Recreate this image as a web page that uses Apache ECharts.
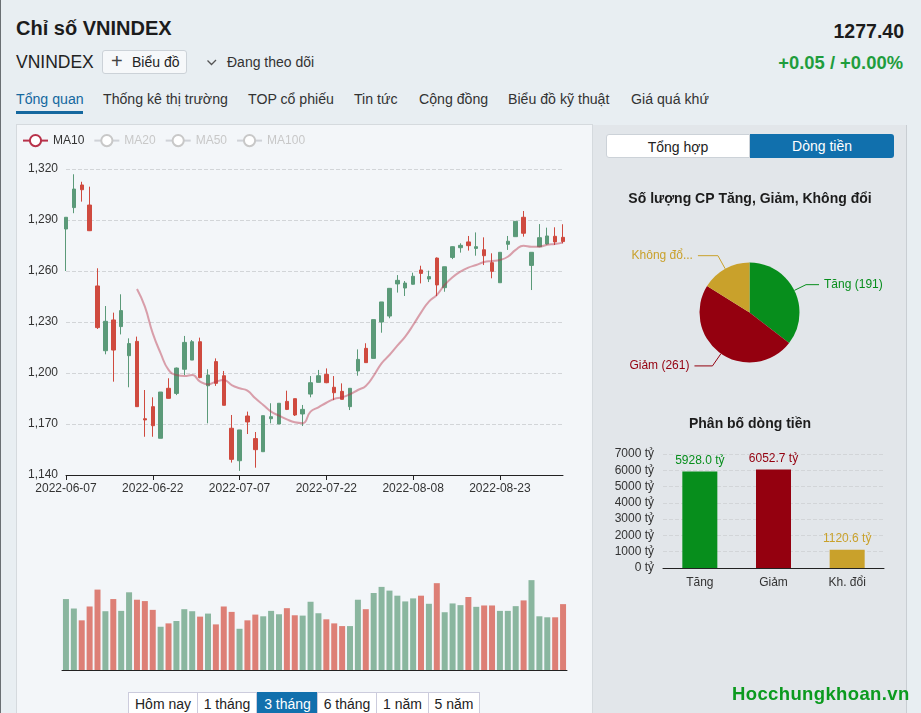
<!DOCTYPE html>
<html>
<head>
<meta charset="utf-8">
<title>VNINDEX</title>
<script src="https://cdn.jsdelivr.net/npm/echarts@6/dist/echarts.min.js"></script>
<style>
  html, body { margin: 0; padding: 0; width: 921px; height: 713px; overflow: hidden; background: #e8eef2; font-family: "Liberation Sans", Arial, sans-serif; color: #222; }
  .abs { position: absolute; white-space: nowrap; }
  #edge { position: absolute; left: 0; top: 0; width: 1px; height: 713px; background: #6a6f73; }
  #panelLeft { position: absolute; left: 16px; top: 124px; width: 577px; height: 600px; background: #f3f6f9; border: 1px solid #d5dade; box-sizing: border-box; }
  #panelRight { position: absolute; left: 593px; top: 125px; width: 313px; height: 600px; background: #e2e6ea; border-right: 1px solid #c9ced3; }
  #chart { position: absolute; left: 0; top: 0; width: 921px; height: 713px; }
  .tab { top: 91px; font-size: 14.15px; line-height: 16px; color: #333; }
  .seg { top: 134px; height: 24px; line-height: 24px; text-align: center; font-size: 14px; box-sizing: border-box; }
  .range { position: absolute; top: 692px; height: 26px; line-height: 22px; text-align: center; font-size: 14px; background: #fff; border: 1px solid #ccd; box-sizing: border-box; }
</style>
</head>
<body>
<div id="edge"></div>
<div id="panelLeft"></div>
<div id="panelRight"></div>

<div class="abs" style="left:16px;top:17px;font-size:20px;font-weight:bold;line-height:22px;color:#1c1c1c">Chỉ số VNINDEX</div>
<div class="abs" style="right:17px;top:20px;font-size:19.5px;font-weight:bold;line-height:22px;color:#1c1c1c">1277.40</div>
<div class="abs" style="left:16px;top:51px;font-size:17.5px;line-height:22px;color:#222">VNINDEX</div>
<div class="abs" style="left:102px;top:50px;width:85px;height:24px;background:#f6f8fa;border:1px solid #ccd2d8;border-radius:3px;box-sizing:border-box;font-size:14px;line-height:22px;padding-left:29px">Biểu đồ
  <span class="abs" style="left:8px;top:0;font-size:20px;line-height:21px;color:#444">+</span></div>
<svg class="abs" style="left:206px;top:58px" width="12" height="9"><path d="M1.5 2.5 L5.5 6.5 L10 2" fill="none" stroke="#555" stroke-width="1.3"/></svg>
<div class="abs" style="left:227px;top:54px;font-size:14px;line-height:16px;color:#333">Đang theo dõi</div>
<div class="abs" style="right:18px;top:52px;font-size:18.4px;font-weight:bold;line-height:22px;color:#1f9d3d">+0.05 / +0.00%</div>

<div class="abs tab" style="left:16px;color:#15689f">Tổng quan</div>
<div class="abs" style="left:16px;top:111px;width:67px;height:3px;background:#15689f"></div>
<div class="abs tab" style="left:103px">Thống kê thị trường</div>
<div class="abs tab" style="left:248px">TOP cổ phiếu</div>
<div class="abs tab" style="left:354px">Tin tức</div>
<div class="abs tab" style="left:419px">Cộng đồng</div>
<div class="abs tab" style="left:508px">Biểu đồ kỹ thuật</div>
<div class="abs tab" style="left:631px">Giá quá khứ</div>

<div class="abs seg" style="left:606px;width:144px;background:#fff;border:1px solid #ccd2d8;border-radius:3px 0 0 3px">Tổng hợp</div>
<div class="abs seg" style="left:750px;width:144px;background:#1170ad;color:#fff;border-radius:0 3px 3px 0">Dòng tiền</div>

<div class="range" style="left:128px;width:70px">Hôm nay</div>
<div class="range" style="left:197px;width:60px">1 tháng</div>
<div class="range" style="left:257px;width:61px;background:#1170ad;color:#fff;border-color:#1170ad">3 tháng</div>
<div class="range" style="left:317px;width:60px">6 tháng</div>
<div class="range" style="left:376px;width:53px">1 năm</div>
<div class="range" style="left:428px;width:52px">5 năm</div>

<div id="chart"></div>
<div class="abs" style="left:732px;top:683px;font-size:18.5px;font-weight:bold;line-height:22px;color:#0b9a1e;letter-spacing:0.37px">Hocchungkhoan.vn</div>

<script>
const dates = [
  '2022-06-07','2022-06-08','2022-06-09','2022-06-10','2022-06-13','2022-06-14','2022-06-15','2022-06-16',
  '2022-06-17','2022-06-20','2022-06-21','2022-06-22','2022-06-23','2022-06-24','2022-06-27','2022-06-28',
  '2022-06-29','2022-06-30','2022-07-01','2022-07-04','2022-07-05','2022-07-06','2022-07-07','2022-07-08',
  '2022-07-11','2022-07-12','2022-07-13','2022-07-14','2022-07-15','2022-07-18','2022-07-19','2022-07-20',
  '2022-07-21','2022-07-22','2022-07-25','2022-07-26','2022-07-27','2022-07-28','2022-07-29','2022-08-01',
  '2022-08-02','2022-08-03','2022-08-04','2022-08-05','2022-08-08','2022-08-09','2022-08-10','2022-08-11',
  '2022-08-12','2022-08-15','2022-08-16','2022-08-17','2022-08-18','2022-08-19','2022-08-22','2022-08-23',
  '2022-08-24','2022-08-25','2022-08-26','2022-08-29','2022-08-30','2022-08-31','2022-09-01','2022-09-02'
]

// open, close, low, high
const candles = [
  [1284.7,1291.6,1260,1291.6],[1297.3,1308.2,1294,1316.9],[1310.6,1307.8,1300.8,1312.5],[1298.8,1283.7,1283.5,1309.6],
  [1251.2,1226.7,1225.9,1261.6],[1213.1,1230.4,1211,1239.4],[1231.2,1213.5,1194.9,1235.5],[1227.3,1236.7,1222.7,1246.3],
  [1210.2,1217.3,1191.6,1220.4],[1218.6,1180.2,1180,1221.4],[1173.1,1172.4,1162.5,1190],[1180.2,1169,1162.5,1185.7],
  [1161.6,1188.8,1161.6,1188.8],[1191,1185.1,1185,1196.9],[1188,1202.9,1187,1203.2],[1202.2,1218,1198.8,1221.8],
  [1207.6,1218.4,1207.6,1219.4],[1218.4,1197.3,1196.9,1220.8],[1192.5,1198.8,1170.4,1202.2],[1206.7,1193.9,1192.4,1208.6],
  [1198.4,1181,1181,1201.2],[1167.5,1149.2,1147.3,1175.3],[1148.4,1166.5,1142.4,1166.5],[1174.7,1171.2,1164.1,1177.3],
  [1161.4,1154.9,1144.3,1165.3],[1153.7,1174.9,1153.7,1174.9],[1173.1,1174.3,1170.4,1182.2],[1170,1182.2,1170,1182.2],
  [1183.3,1178.6,1178.2,1189.6],[1184.9,1175.3,1174.7,1184.9],[1175.9,1178.6,1168.8,1181.2],[1187.6,1194.3,1185.7,1198.2],
  [1194.5,1198.4,1194.5,1201.8],[1199.2,1194.3,1194,1202.7],[1191.6,1188.4,1184.1,1198.2],[1189.2,1184.5,1184.5,1193.9],
  [1180.2,1191,1178.2,1191],[1201.2,1208,1198.4,1213.9],[1214.5,1206.1,1206,1217.5],[1208.6,1231.4,1208.6,1231.4],
  [1230,1241.8,1223.7,1241.8],[1233.5,1249.8,1232.2,1249.8],[1252.4,1254.5,1247.3,1257.6],[1250,1252.9,1245.3,1254.1],
  [1252.2,1256.9,1252,1259],[1260.6,1258.6,1252.7,1263.1],[1255.3,1256.7,1253.5,1260.2],[1267.6,1251.8,1245.3,1268],
  [1250.2,1262.5,1247.8,1262.5],[1268,1274.3,1267,1274.5],[1273.7,1275.1,1270.8,1276.3],[1277.1,1274.9,1272,1280.6],
  [1273.3,1274.3,1269,1282.7],[1272.5,1269,1263.5,1279.8],[1264.9,1259.8,1255.7,1270.4],[1253.1,1271,1253.1,1271],
  [1275.7,1277.5,1272.4,1280.6],[1280.2,1289.2,1280.2,1289.2],[1291.6,1282.2,1280.2,1295.3],[1263.3,1271,1248.8,1271],
  [1274.3,1279.6,1274,1287.6],[1275.9,1280.6,1275.5,1285.5],[1280.4,1277.1,1275.3,1285.7],[1279.8,1277.3,1276.3,1287.5]
]

const ma10 = [
  '-','-','-','-','-','-','-','-','-',1249.4,1239,1223.3,1211.6,1201.8,1198.8,1198.2,
  1198.8,1194.9,1193.3,1194.9,1195.9,1192.9,1191,1189.6,1185.1,1181.2,1177.3,1174.9,1172.7,1171,1170.5,1177.3,
  1179.8,1182.5,1184.7,1185.7,1187.5,1190,1192.4,1198.4,1205.7,1210.6,1216.1,1221.4,1228.2,1235.5,1242,1245.9,
  1251.8,1256.3,1259.6,1262,1263.5,1265.3,1265.9,1266.5,1268.4,1272.4,1274.9,1274.3,1274.3,1275.5,1275.9,1276.7
]

const volumes = [
  210,182,147,188,238,174,210,175,230,208,204,178,128,138,145,180,
  174,158,167,135,188,172,122,147,164,159,175,165,183,162,161,202,
  168,150,138,130,130,208,180,228,246,235,220,203,212,220,196,257,
  171,197,192,216,187,191,191,175,175,189,206,266,159,156,156,195
]

const breadthNames = ['Tăng', 'Giảm', 'Không đổi']
const breadthValues = [191, 261, 87]
const flowNames = ['Tăng', 'Giảm', 'Kh. đổi']
const flowValues = [5928.0, 6052.7, 1120.6]
const flowColors = ['#078e1c', '#94000f', '#c9a12b']
// label line lengths per slice
const pieLineLength = [13, 15, 15]
const pieLineLength2 = [13, 18, 20]

const upColor = '#5b9a79'
const downColor = '#cf4a3f'
const font = '"Liberation Sans", Arial, sans-serif'
const gridLine = { show: true, lineStyle: { type: 'dashed', color: '#d2d5d8', width: 1 } }

const chart = echarts.init(document.getElementById('chart'), null, { renderer: 'canvas' })

chart.setOption({
  animation: false,
  textStyle: { fontFamily: font },
  title: [
    { text: 'Số lượng CP Tăng, Giảm, Không đổi', left: 745, top: 187, textAlign: 'center',
      textStyle: { fontSize: 14, fontWeight: 'bold', color: '#1c1c1c', fontFamily: font } },
    { text: 'Phân bố dòng tiền', left: 745, top: 412, textAlign: 'center',
      textStyle: { fontSize: 14, fontWeight: 'bold', color: '#1c1c1c', fontFamily: font } }
  ],
  legend: {
    left: 17, top: 129, itemWidth: 25, itemHeight: 14, itemGap: 9,
    data: ['MA10', 'MA20', 'MA50', 'MA100'],
    selected: { MA10: true, MA20: false, MA50: false, MA100: false },
    inactiveColor: '#c8c8c8', inactiveBorderColor: '#c8c8c8',
    lineStyle: { opacity: 1 },
    textStyle: { fontSize: 12, color: '#333', fontFamily: font }
  },
  grid: [
    { left: 66, top: 169, width: 497, height: 306 },
    { left: 62, top: 570, width: 505, height: 100 },
    { left: 663, top: 454, width: 221, height: 114 }
  ],
  xAxis: [
    { type: 'category', gridIndex: 0, data: dates, boundaryGap: false,
      axisLine: { lineStyle: { color: '#222' } },
      axisTick: { interval: 10, length: 5, lineStyle: { color: '#222' } },
      axisLabel: { interval: 10, fontSize: 12, color: '#333', margin: 8, hideOverlap: false },
      splitLine: { show: false } },
    { type: 'category', gridIndex: 1, data: dates,
      axisLine: { lineStyle: { color: '#222' } }, axisTick: { show: false }, axisLabel: { show: false } },
    { type: 'category', gridIndex: 2, data: flowNames,
      axisLine: { lineStyle: { color: '#222' } },
      axisTick: { length: 4, lineStyle: { color: '#222' } },
      axisLabel: { fontSize: 12, color: '#333', margin: 9 } }
  ],
  yAxis: [
    { type: 'value', gridIndex: 0, min: 1140, max: 1320, interval: 30,
      axisLine: { show: false }, axisTick: { show: false },
      axisLabel: { fontSize: 12, color: '#333', margin: 8, formatter: v => v.toLocaleString('en-US') },
      splitLine: gridLine },
    { type: 'value', gridIndex: 1, min: 0, max: 296, show: false, splitLine: { show: false } },
    { type: 'value', gridIndex: 2, min: 0, max: 7000, interval: 1000,
      axisLine: { show: false }, axisTick: { show: false },
      axisLabel: { fontSize: 12, color: '#333', margin: 9, formatter: v => v + ' tỷ' },
      splitLine: gridLine }
  ],
  series: [
    { name: 'Giá', type: 'candlestick', xAxisIndex: 0, yAxisIndex: 0, data: candles,
      barWidth: 4, clip: false,
      itemStyle: { color: upColor, color0: downColor, borderColor: upColor, borderColor0: downColor, borderWidth: 1 } },
    { name: 'MA10', type: 'line', xAxisIndex: 0, yAxisIndex: 0, data: ma10, smooth: true, showSymbol: false,
      symbol: 'emptyCircle', itemStyle: { color: '#b8324a' },
      lineStyle: { color: '#b8324a', width: 2, opacity: 0.45 } },
    { name: 'MA20', type: 'line', xAxisIndex: 0, yAxisIndex: 0, data: [], showSymbol: false, symbol: 'emptyCircle' },
    { name: 'MA50', type: 'line', xAxisIndex: 0, yAxisIndex: 0, data: [], showSymbol: false, symbol: 'emptyCircle' },
    { name: 'MA100', type: 'line', xAxisIndex: 0, yAxisIndex: 0, data: [], showSymbol: false, symbol: 'emptyCircle' },
    { name: 'Khối lượng', type: 'bar', xAxisIndex: 1, yAxisIndex: 1, barWidth: 6,
      data: volumes.map((v, i) => ({
        value: v,
        itemStyle: { color: candles[i][1] >= candles[i][0] ? '#8ab69f' : '#dd7f76' }
      })) },
    { name: 'Số lượng CP', type: 'pie', center: [749.5, 312.5], radius: [0, 50], startAngle: 90, clockwise: true,
      label: { fontSize: 12, formatter: p => p.name === 'Không đổi' ? 'Không đổ...' : p.name + ' (' + p.value + ')' },
      itemStyle: { borderColor: 'transparent' },
      data: breadthValues.map((v, i) => ({
        name: breadthNames[i], value: v,
        itemStyle: { color: flowColors[i] },
        label: { color: flowColors[i] },
        labelLine: { length: pieLineLength[i], length2: pieLineLength2[i], lineStyle: { color: flowColors[i] } }
      })) },
    { name: 'Dòng tiền', type: 'bar', xAxisIndex: 2, yAxisIndex: 2, barWidth: 35,
      label: { show: true, position: 'top', distance: 5, fontSize: 12, formatter: p => p.value.toFixed(1) + ' tỷ' },
      data: flowValues.map((v, i) => ({
        value: v,
        itemStyle: { color: flowColors[i] },
        label: { color: flowColors[i] }
      })) }
  ]
})
</script>
</body>
</html>
